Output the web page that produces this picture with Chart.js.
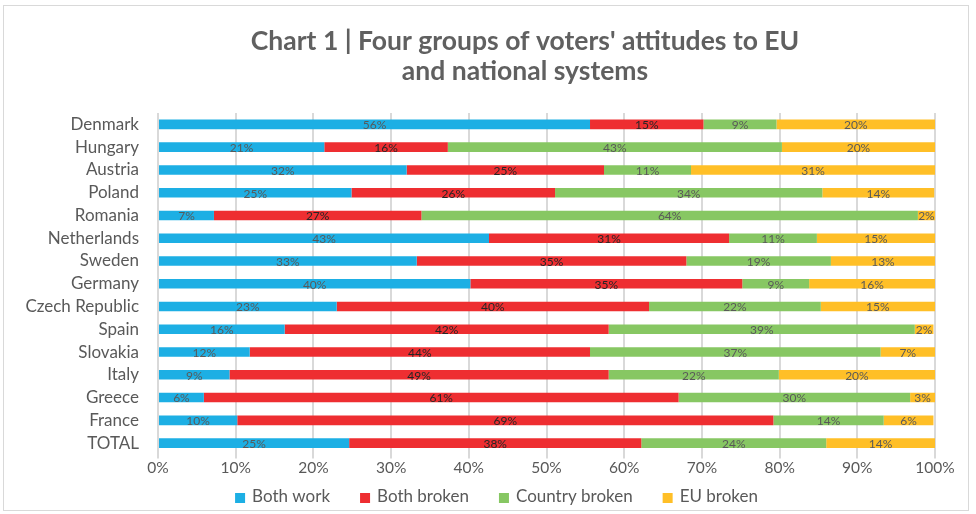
<!DOCTYPE html>
<html>
<head>
<meta charset="utf-8">
<script src="https://cdn.jsdelivr.net/npm/chart.js@4"></script>
<style>
  html, body { margin: 0; padding: 0; background: #fff; }
  #wrap { position: relative; width: 976px; height: 514px; }
  #frame { position: absolute; left: 3px; top: 5px; width: 966px; height: 506px; border: 1px solid #d9d9d9; box-sizing: border-box; }
  canvas { position: absolute; left: 0; top: 0; }
</style>
</head>
<body>
<div id="wrap">
  <div id="frame"></div>
  <canvas id="c" width="976" height="514"></canvas>
</div>
<script>
const titleLines = ["Chart 1 | Four groups of voters' attitudes to EU", 'and national systems'];
const categories = ['Denmark','Hungary','Austria','Poland','Romania','Netherlands','Sweden','Germany','Czech Republic','Spain','Slovakia','Italy','Greece','France','TOTAL'];
const bothWork      = [55.6, 21.4, 32.0, 24.9, 7.2, 42.6, 33.3, 40.2, 23.0, 16.3, 11.8, 9.2, 5.9, 10.2, 24.6];
const bothBroken    = [14.6, 15.9, 25.4, 26.2, 26.7, 30.9, 34.7, 35.0, 40.2, 41.7, 43.8, 48.8, 61.1, 69.0, 37.6];
const countryBroken = [9.4, 43.0, 11.2, 34.4, 63.9, 11.3, 18.6, 8.6, 22.1, 39.4, 37.4, 21.9, 29.8, 14.2, 23.8];
const euBroken      = [20.4, 19.7, 31.4, 14.4, 2.2, 15.2, 13.4, 16.2, 14.7, 2.4, 7.0, 20.1, 3.2, 6.4, 14.0];
const seriesNames = ['Both work','Both broken','Country broken','EU broken'];
const seriesColors = ['#1DAFE4','#EE2E31','#87C763','#FFBF27'];
const labelColors = ['#595959','#262626','#595959','#595959'];
const xTicks = [0,10,20,30,40,50,60,70,80,90,100];

const FONT = 'Lato';

const labelPlugin = {
  id: 'segLabels',
  afterDatasetsDraw(chart) {
    const ctx = chart.ctx;
    ctx.save();
    ctx.font = '12px ' + FONT;
    ctx.textAlign = 'center';
    ctx.textBaseline = 'middle';
    chart.data.datasets.forEach((ds, di) => {
      const meta = chart.getDatasetMeta(di);
      meta.data.forEach((bar, i) => {
        const v = ds.data[i];
        const left = Math.min(bar.x, bar.base);
        const right = Math.min(Math.max(bar.x, bar.base), chart.chartArea.right);
        const cx = (left + right) / 2;
        ctx.fillStyle = labelColors[di];
        ctx.fillText(Math.round(v) + '%', cx, bar.y + 1);
      });
    });
    ctx.restore();
  }
};

const titlePlugin = {
  id: 'customTitle',
  afterDraw(chart) {
    const ctx = chart.ctx;
    ctx.save();
    ctx.font = 'bold 26.5px ' + FONT;
    ctx.fillStyle = '#606060';
    ctx.textAlign = 'center';
    ctx.textBaseline = 'middle';
    ctx.fillText(titleLines[0], 525, 41);
    ctx.fillText(titleLines[1], 525, 71);
    ctx.restore();
  }
};

const legendPlugin = {
  id: 'customLegend',
  afterDraw(chart) {
    const ctx = chart.ctx;
    ctx.save();
    ctx.font = '17px ' + FONT;
    ctx.textBaseline = 'middle';
    ctx.textAlign = 'left';
    const box = 10, gapText = 7, gapItem = 30, cy = 497, cx = 496.5;
    const items = chart.data.datasets.map(ds => ({ text: ds.label, color: ds.backgroundColor, w: ctx.measureText(ds.label).width }));
    let total = 0;
    items.forEach((it, i) => { total += box + gapText + it.w + (i < items.length - 1 ? gapItem : 0); });
    let x = cx - total / 2;
    items.forEach((it) => {
      ctx.fillStyle = it.color;
      ctx.fillRect(x, cy - box / 2 + 1, box, box);
      x += box + gapText;
      ctx.fillStyle = '#595959';
      ctx.fillText(it.text, x, cy);
      x += it.w + gapItem;
    });
    ctx.restore();
  }
};

new Chart(document.getElementById('c'), {
  type: 'bar',
  data: {
    labels: categories,
    datasets: [bothWork, bothBroken, countryBroken, euBroken].map((d, i) => ({
      label: seriesNames[i],
      data: d,
      backgroundColor: seriesColors[i],
      borderWidth: 0,
      categoryPercentage: 0.42,
      barPercentage: 1.0
    }))
  },
  options: {
    indexAxis: 'y',
    responsive: false,
    animation: false,
    devicePixelRatio: 1,
    layout: { padding: { top: 113, right: 41, left: 0, bottom: 36 } },
    plugins: {
      title: { display: false },
      legend: { display: false },
      tooltip: { enabled: false }
    },
    scales: {
      x: {
        stacked: true,
        min: 0, max: 100,
        ticks: {
          stepSize: 10,
          color: '#595959',
          font: { family: FONT, size: 15.5, lineHeight: 1.0 },
          padding: 2,
          callback: (v) => xTicks.includes(v) ? v + '%' : ''
        },
        grid: { color: '#d9d9d9', lineWidth: 2, drawTicks: true, tickLength: 4 },
        border: { display: false }
      },
      y: {
        stacked: true,
        ticks: {
          color: '#595959',
          font: { family: FONT, size: 17 },
          padding: 11,
          autoSkip: false
        },
        grid: { display: false },
        border: { display: false },
        afterFit: (s) => { s.width = 158; }
      }
    }
  },
  plugins: [labelPlugin, titlePlugin, legendPlugin]
});
</script>
</body>
</html>
